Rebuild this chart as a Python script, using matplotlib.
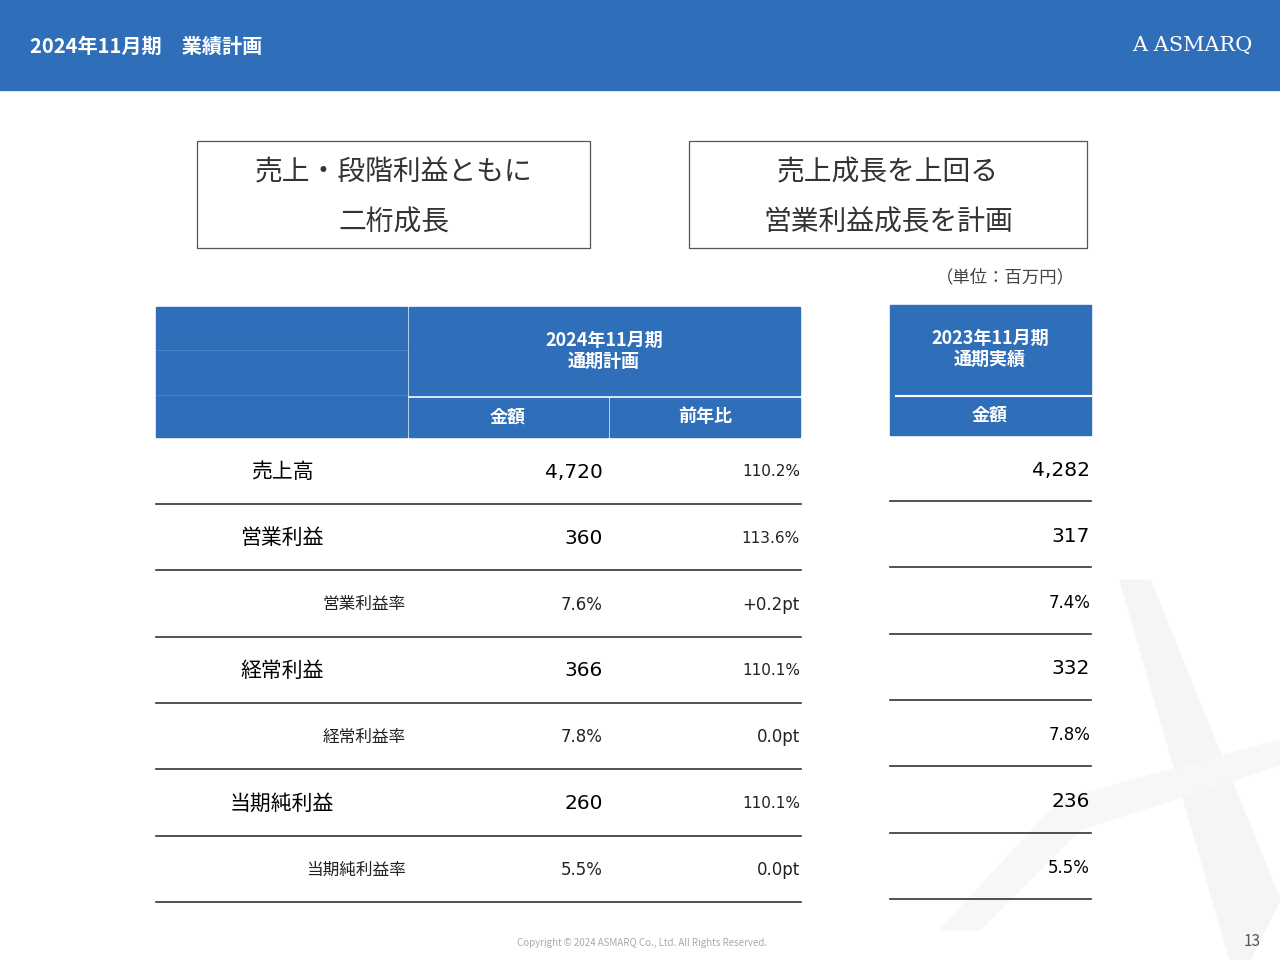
import matplotlib
matplotlib.use("Agg")
import matplotlib.pyplot as plt
from matplotlib.patches import Rectangle, Polygon

plt.rcParams['font.family'] = ['Noto Sans CJK JP', 'DejaVu Sans']
NUMFONT = ['DejaVu Sans']

labels = ["売上高", "営業利益", "営業利益率", "経常利益", "経常利益率", "当期純利益", "当期純利益率"]
is_sub = [False, False, True, False, True, False, True]
plan_2024 = ["4,720", "360", "7.6%", "366", "7.8%", "260", "5.5%"]
yoy = ["110.2%", "113.6%", "+0.2pt", "110.1%", "0.0pt", "110.1%", "0.0pt"]
actual_2023 = ["4,282", "317", "7.4%", "332", "7.8%", "236", "5.5%"]

BLUE = "#2F6FBA"

fig = plt.figure(figsize=(12.8, 9.6), dpi=100)
ax = fig.add_axes([0, 0, 1, 1])
ax.set_xlim(0, 1280)
ax.set_ylim(960, 0)
ax.axis("off")

# faint watermark shape (decorative)
ax.add_patch(Polygon([(1120, 580), (1150, 580), (1280, 900), (1250, 960), (1230, 960)],
                     closed=True, color="#F5F5F5", zorder=0))
ax.add_patch(Polygon([(940, 930), (1060, 800), (1280, 740), (1280, 765), (1080, 830), (980, 930)],
                     closed=True, color="#F7F7F7", zorder=0))

# header band
ax.add_patch(Rectangle((0, 0), 1280, 90, color=BLUE))
ax.text(30, 46, "2024年11月期　業績計画", color="white", fontsize=14.5, fontweight="bold", va="center")
ax.text(1252, 46, "A ASMARQ", color="white", fontsize=15, ha="right", va="center", family="DejaVu Serif")

# message boxes
for x0, x1, lines in [(197, 590, ["売上・段階利益ともに", "二桁成長"]),
                      (689, 1087, ["売上成長を上回る", "営業利益成長を計画"])]:
    ax.add_patch(Rectangle((x0, 141), x1 - x0, 107, fill=False, ec="#555555", lw=0.9))
    for y, t in zip([172, 223], lines):
        ax.text((x0 + x1) / 2, y, t, fontsize=20, color="#333333", ha="center", va="center")

ax.text(1005, 277, "（単位：百万円）", fontsize=12.5, color="#444444", ha="center", va="center")

# table headers
ax.add_patch(Rectangle((156, 307), 251, 130, color=BLUE))
ax.plot([156, 407], [350, 350], color="#4A82C4", lw=0.8)
ax.plot([156, 407], [395, 395], color="#4A82C4", lw=0.8)
ax.add_patch(Rectangle((409, 307), 391, 88, color=BLUE))
ax.add_patch(Rectangle((409, 398), 199, 39, color=BLUE))
ax.add_patch(Rectangle((610, 398), 190, 39, color=BLUE))
ax.text(604, 351, "2024年11月期\n通期計画", color="white", fontsize=13, fontweight="bold",
        ha="center", va="center", linespacing=1.1)
ax.text(508, 417, "金額", color="white", fontsize=13, fontweight="bold", ha="center", va="center")
ax.text(705, 417, "前年比", color="white", fontsize=13, fontweight="bold", ha="center", va="center")

ax.add_patch(Rectangle((890, 305), 201, 130, color=BLUE))
ax.plot([896, 1091], [396, 396], color="white", lw=1.5)
ax.text(990, 349, "2023年11月期\n通期実績", color="white", fontsize=13, fontweight="bold",
        ha="center", va="center", linespacing=1.1)
ax.text(990, 415, "金額", color="white", fontsize=13, fontweight="bold", ha="center", va="center")

# rows
for i, (lab, sub, p, y_, a) in enumerate(zip(labels, is_sub, plan_2024, yoy, actual_2023)):
    yc = 472 + i * 66.3
    if sub:
        ax.text(406, yc, lab, fontsize=12, ha="right", va="center", color="#222222")
        ax.text(603, yc, p, fontsize=12, ha="right", va="center", color="#222222", family=NUMFONT)
    else:
        ax.text(282, yc, lab, fontsize=15, ha="center", va="center", color="black")
        ax.text(603, yc, p, fontsize=14.5, ha="right", va="center", color="black", family=NUMFONT)
    ax.text(800, yc, y_, fontsize=11 if not sub else 12, ha="right", va="center",
            color="#222222", family=NUMFONT)
    ax.text(1090, yc - 2, a, fontsize=14.5 if not sub else 12, ha="right", va="center",
            color="black", family=NUMFONT)
    ax.plot([156, 801], [yc + 32, yc + 32], color="#333333", lw=1.2)
    ax.plot([890, 1091], [yc + 29, yc + 29], color="#333333", lw=1.2)

ax.text(642, 943, "Copyright © 2024 ASMARQ Co., Ltd. All Rights Reserved.", fontsize=7,
        color="#AAAAAA", ha="center", va="center")
ax.text(1252, 942, "13", fontsize=11, color="#555555", ha="center", va="center")

fig.savefig("out.png", dpi=100)
